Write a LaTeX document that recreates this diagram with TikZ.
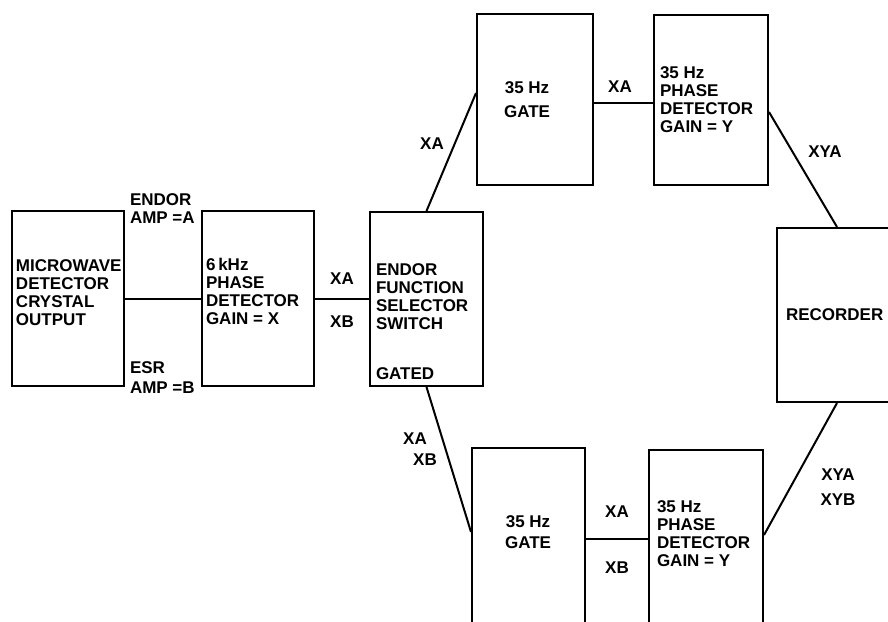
\documentclass[tikz,border=0pt]{standalone}
\usepackage{fontspec}
\setmainfont{Liberation Sans}

\begin{document}
\begin{tikzpicture}[x=1pt, y=-1pt, line width=2pt,
    box/.style={draw, inner sep=0pt},
    txt/.style={font=\bfseries\fontsize{17}{18}\selectfont, align=left, anchor=west, inner sep=0pt},
    tag/.style={font=\bfseries\fontsize{17}{18}\selectfont, inner sep=0pt}]
    \useasboundingbox (0, 0) rectangle (888, 621);
    \clip (0, 0) rectangle (888, 621);

    \node[box, minimum width=112pt, minimum height=175pt] (mw) at (68, 298.5) {};
    \node[box, minimum width=112pt, minimum height=175pt] (pd6) at (258, 298.5) {};
    \node[box, minimum width=113pt, minimum height=174pt] (sel) at (426.5, 299) {};
    \node[box, minimum width=116pt, minimum height=171pt] (gateA) at (535, 99.5) {};
    \node[box, minimum width=114pt, minimum height=170pt] (pdA) at (711, 100) {};
    \node[box, minimum width=120pt, minimum height=174pt] (rec) at (837, 315) {};
    \node[box, minimum width=113pt, minimum height=182pt] (gateB) at (528.5, 539) {};
    \node[box, minimum width=114pt, minimum height=182pt] (pdB) at (706, 541) {};

    \node[txt] (tMw) at (15, 293) {MICROWAVE\\DETECTOR\\CRYSTAL\\OUTPUT};
    \node[txt] (tPd6) at (205, 291) {6\,kHz\\PHASE\\DETECTOR\\GAIN = X};
    \node[txt] (tSel) at (375, 297) {ENDOR\\FUNCTION\\SELECTOR\\SWITCH};
    \node[txt] (tGated) at (375, 374) {GATED};
    \node[tag, align=center, font=\bfseries\fontsize{17}{24}\selectfont] (tGateA) at (527, 100) {35 Hz\\GATE};
    \node[txt] (tPdA) at (659, 99.5) {35 Hz\\PHASE\\DETECTOR\\GAIN = Y};
    \node[txt] (tRec) at (785, 315) {RECORDER};
    \node[tag, align=center, font=\bfseries\fontsize{17}{21}\selectfont] (tGateB) at (528, 532) {35 Hz\\GATE};
    \node[txt] (tPdB) at (656, 534) {35 Hz\\PHASE\\DETECTOR\\GAIN = Y};

    \draw (mw.east) -- (mw.east -| pd6.west);
    \draw (pd6.east) -- (pd6.east -| sel.west);
    \draw (sel.north) -- ([yshift=6.5pt]gateA.west);
    \draw ([yshift=-3pt]gateA.east) -- ([yshift=-3pt]gateA.east -| pdA.west);
    \draw ([yshift=-12pt]pdA.east) -- (rec.north);
    \draw (sel.south) -- ([yshift=7pt]gateB.west);
    \draw (gateB.east) -- (gateB.east -| pdB.west);
    \draw ([yshift=6pt]pdB.east) -- (rec.south);

    \node[txt] (lEndor) at (129, 209) {ENDOR\\AMP =A};
    \node[txt, font=\bfseries\fontsize{17}{20}\selectfont] (lEsr) at (129, 378) {ESR\\AMP =B};
    \node[tag] (lXA1) at (342, 279) {XA};
    \node[tag] (lXB1) at (342, 322) {XB};
    \node[tag] (lXA2) at (432, 144) {XA};
    \node[tag] (lXA3) at (620, 87) {XA};
    \node[tag] (lXYA1) at (825, 152) {XYA};
    \node[tag] (lXA4) at (415, 439) {XA};
    \node[tag] (lXB4) at (425, 460) {XB};
    \node[tag] (lXA5) at (617, 512) {XA};
    \node[tag] (lXB5) at (617, 568) {XB};
    \node[tag] (lXYA2) at (838, 475) {XYA};
    \node[tag] (lXYB2) at (838, 500) {XYB};
\end{tikzpicture}
\end{document}
